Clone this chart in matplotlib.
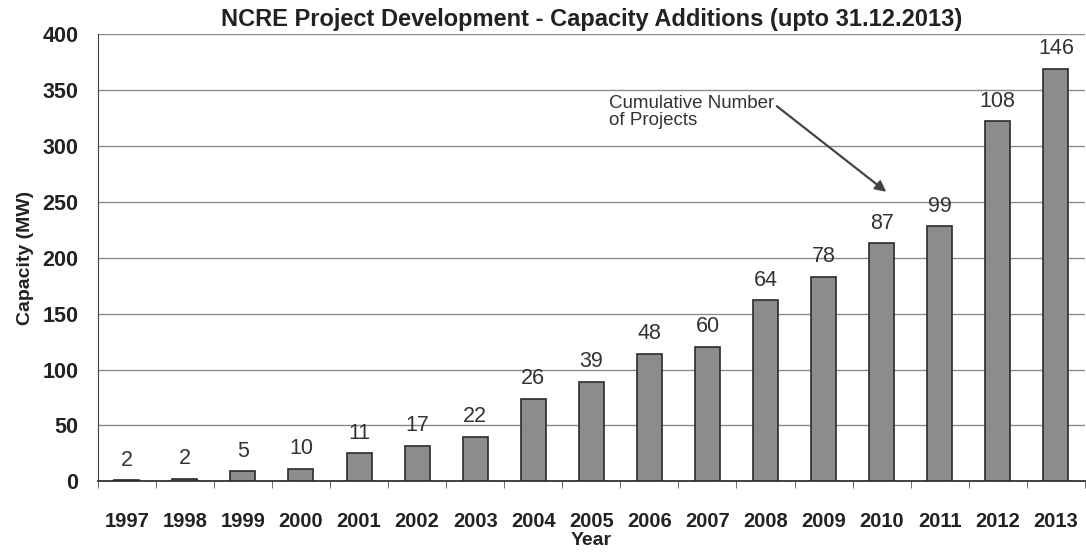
import matplotlib.pyplot as plt
import numpy as np

plt.rcParams['font.family'] = ['Liberation Sans', 'DejaVu Sans']

# Data
years = ['1997', '1998', '1999', '2000', '2001', '2002', '2003', '2004', '2005',
         '2006', '2007', '2008', '2009', '2010', '2011', '2012', '2013']
capacity_mw = [1, 2, 9, 11, 25, 32, 40, 74, 89, 114, 120, 162, 183, 213, 228, 322, 369]
cum_projects = [2, 2, 5, 10, 11, 17, 22, 26, 39, 48, 60, 64, 78, 87, 99, 108, 146]

fig, ax = plt.subplots(figsize=(10.86, 5.52), dpi=100)
fig.subplots_adjust(left=0.090, right=0.999, top=0.938, bottom=0.128)

x = np.arange(len(years))
bars = ax.bar(x, capacity_mw, width=0.43, color='#8c8c8c', edgecolor='#2b2b2b',
              linewidth=1.2, zorder=3)

for xi, h, n in zip(x, capacity_mw, cum_projects):
    ax.annotate(str(n), (xi, h), xytext=(0, 7), textcoords='offset points',
                ha='center', va='bottom', fontsize=15.5, color='#333333')

ax.set_xlim(-0.5, len(years) - 0.5)
ax.set_ylim(0, 400)
ax.set_yticks(range(0, 401, 50))
ax.set_xticks(x)
ax.set_xticklabels(years, fontsize=14.5, fontweight='bold', color='#222222')
ax.tick_params(axis='x', length=0, pad=22)
ax.set_xticks(np.arange(-0.5, len(years), 1), minor=True)
ax.tick_params(axis='x', which='minor', length=5, color='#555555')
ax.tick_params(axis='y', labelsize=15.5, length=0, pad=14, labelcolor='#222222')
for lbl in ax.get_yticklabels():
    lbl.set_fontweight('bold')

ax.grid(axis='y', color='#8a8a8a', linewidth=1.0, zorder=0)
for side in ['top', 'right']:
    ax.spines[side].set_visible(False)
ax.spines['left'].set_color('#444444')
ax.spines['bottom'].set_color('#333333')
ax.spines['bottom'].set_linewidth(1.3)

ax.set_title('NCRE Project Development - Capacity Additions (upto 31.12.2013)',
             fontsize=17, fontweight='bold', color='#222222', pad=6)
ax.set_xlabel('Year', fontsize=14, fontweight='bold', color='#222222', labelpad=1)
ax.set_ylabel('Capacity (MW)', fontsize=14, fontweight='bold', color='#222222', labelpad=6)

ax.annotate('Cumulative Number\nof Projects', xy=(13.08, 259), xytext=(8.3, 330),
            fontsize=13.5, color='#333333', ha='left', va='center',
            linespacing=1.0,
            arrowprops=dict(arrowstyle='-|>', color='#444444', lw=1.6,
                            shrinkA=0, shrinkB=0, mutation_scale=16,
                            relpos=(1.0, 0.75)))

plt.savefig('out.png', dpi=100)
